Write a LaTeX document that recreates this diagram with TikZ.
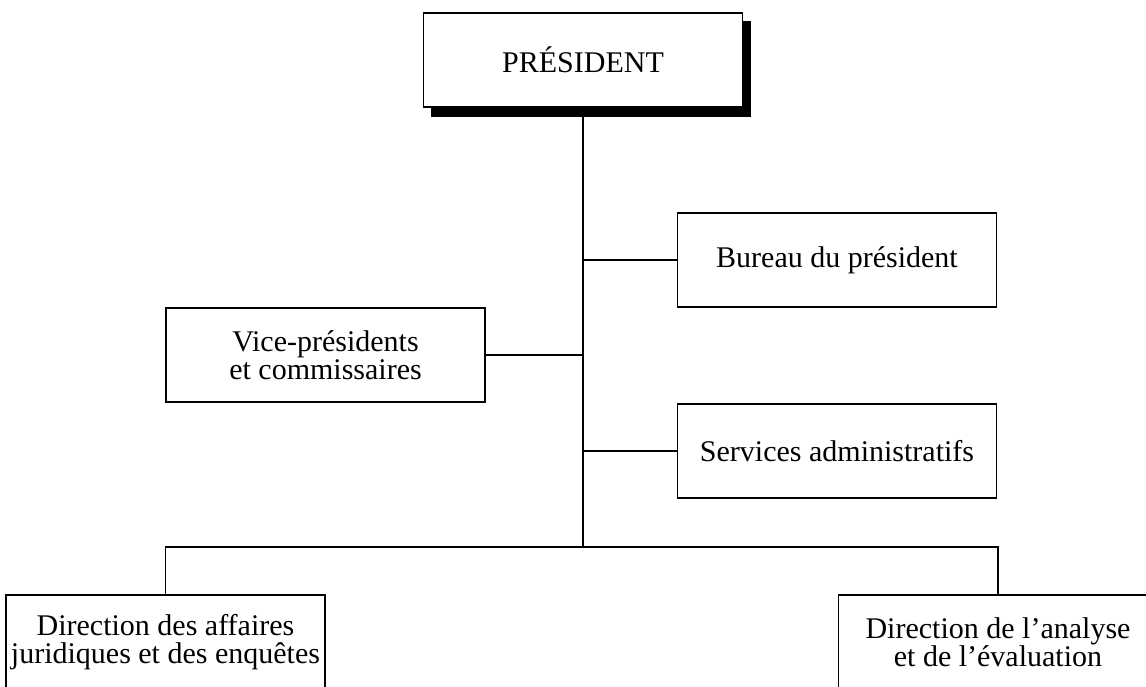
\documentclass[tikz,border=0pt]{standalone}
\usepackage{fontspec}
\setmainfont{Liberation Serif}
\begin{document}
\begin{tikzpicture}[x=1pt,y=-1pt,
  box/.style={draw=black, line width=1.2pt, fill=white, minimum width=319pt, minimum height=94pt,
    inner sep=0pt, align=center, font=\fontsize{30}{28}\selectfont},
  link/.style={draw=black, line width=1.2pt}]
\clip (0,0) rectangle (1146,686);
\fill[white] (0,0) rectangle (1146,686);
% shadow
\fill[black] (431,21) rectangle (751,117);
\node[box] (pres) at (583,60) {PRÉSIDENT};
\node[box] (bureau) at (837,260) {Bureau du président};
\node[box] (services) at (837,451) {Services administratifs};
\node[box] (vice) at (325.5,355) {Vice-présidents\\et commissaires};
\node[box] (leftbot) at (165.5,642) {Direction des affaires\\juridiques et des enquêtes};
\node[box] (rightbot) at (998,642) {Direction de l’analyse\\et de l’évaluation};
\coordinate (bus) at (583,547);
\coordinate (top) at (583,117);
\draw[link] (top) -- (bus);
\draw[link] (bureau.west) -- (bureau.west -| bus);
\draw[link] (services.west) -- (services.west -| bus);
\draw[link] (vice.east) -- (vice.east -| bus);
\draw[link] (leftbot.north) |- (bus) -| (rightbot.north);
\end{tikzpicture}
\end{document}
